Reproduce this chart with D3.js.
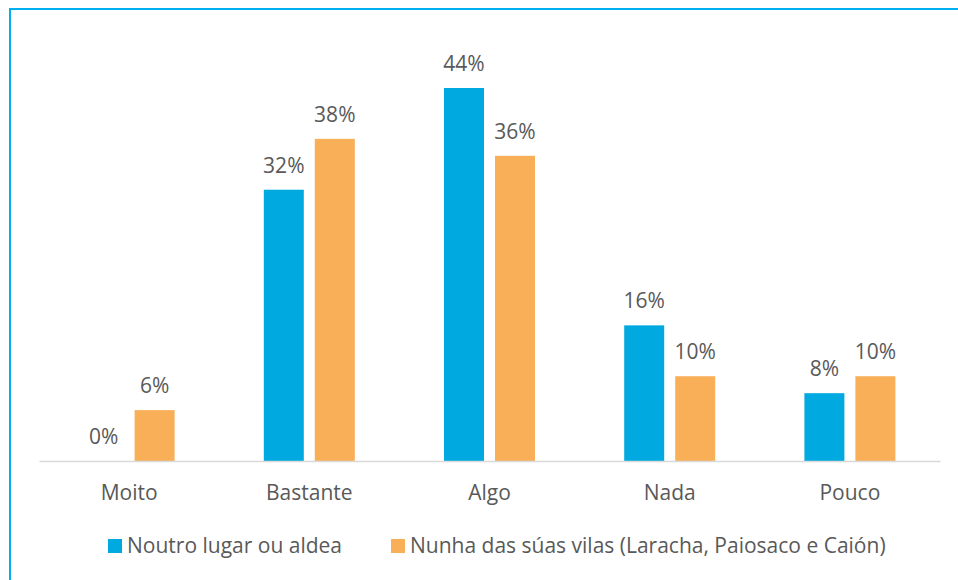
<!DOCTYPE html>
<html>
<head>
<meta charset="utf-8">
<script src="https://cdn.jsdelivr.net/npm/d3@7"></script>
<style>
  body { margin: 0; background: #fff; }
  svg { display: block; font-family: "Open Sans", sans-serif; }
</style>
</head>
<body>
<svg id="chart" width="958" height="580"></svg>
<script>
// categories and the two series (percent)
var categories = ["Moito", "Bastante", "Algo", "Nada", "Pouco"]
var seriesNames = ["Noutro lugar ou aldea", "Nunha das súas vilas (Laracha, Paiosaco e Caión)"]
var noutroLugar = [0, 32, 44, 16, 8]
var nunhaVilas = [6, 38, 36, 10, 10]
var colors = ["#00A9E0", "#F9AF57"]

var svg = d3.select("#chart")
var textColor = "#595959"
var fontSize = "21px"

// frame lines (top and left only)
svg.append("line").attr("x1", 9).attr("x2", 958).attr("y1", 9).attr("y2", 9)
	.attr("stroke", "#00B0F0").attr("stroke-width", 2)
svg.append("line").attr("x1", 10).attr("x2", 10).attr("y1", 8).attr("y2", 580)
	.attr("stroke", "#00B0F0").attr("stroke-width", 2)

var x0 = d3.scaleBand().domain(categories).range([39, 940]).padding(0)
var groupW = 91
var x1 = d3.scaleBand().domain([0, 1]).range([0, groupW]).paddingInner(11 / 51)
var y = d3.scaleLinear().domain([0, 44]).range([461, 88])

var rows = categories.map(function(c, i) {
	return { cat: c, values: [noutroLugar[i], nunhaVilas[i]] }
})

var groups = svg.selectAll("g.grp")
	.data(rows)
	.enter()
	.append("g")
	.attr("transform", function(d) {
		return "translate(" + (x0(d.cat) + (x0.bandwidth() - groupW) / 2) + ",0)"
	})

groups.selectAll("rect")
	.data(function(d) { return d.values })
	.enter()
	.append("rect")
	.attr("x", function(d, i) { return x1(i) })
	.attr("y", function(d) { return y(d) })
	.attr("width", x1.bandwidth())
	.attr("height", function(d) { return y(0) - y(d) })
	.attr("fill", function(d, i) { return colors[i] })

groups.selectAll("text")
	.data(function(d) { return d.values })
	.enter()
	.append("text")
	.attr("x", function(d, i) { return x1(i) + x1.bandwidth() / 2 })
	.attr("y", function(d) { return y(d) - 17 })
	.attr("text-anchor", "middle")
	.attr("fill", textColor)
	.style("font-size", fontSize)
	.text(function(d) { return d + "%" })

// x axis
var axis = svg.append("g")
	.attr("transform", "translate(0," + y(0) + ")")
	.call(d3.axisBottom(x0).tickSize(0).tickPadding(24))
axis.select(".domain").attr("stroke", "#D9D9D9").attr("stroke-width", 1.5)
axis.selectAll("text")
	.attr("fill", textColor)
	.style("font-size", fontSize)
	.style("font-family", '"Open Sans", sans-serif')

// legend
var legendX = [108, 391]
var legend = svg.selectAll("g.leg")
	.data(seriesNames)
	.enter()
	.append("g")
	.attr("transform", function(d, i) { return "translate(" + legendX[i] + ",539)" })
legend.append("rect")
	.attr("width", 14).attr("height", 14)
	.attr("fill", function(d, i) { return colors[i] })
legend.append("text")
	.attr("x", 19).attr("y", 7).attr("dy", "0.35em")
	.attr("fill", textColor)
	.style("font-size", fontSize)
	.text(function(d) { return d })
</script>
</body>
</html>
